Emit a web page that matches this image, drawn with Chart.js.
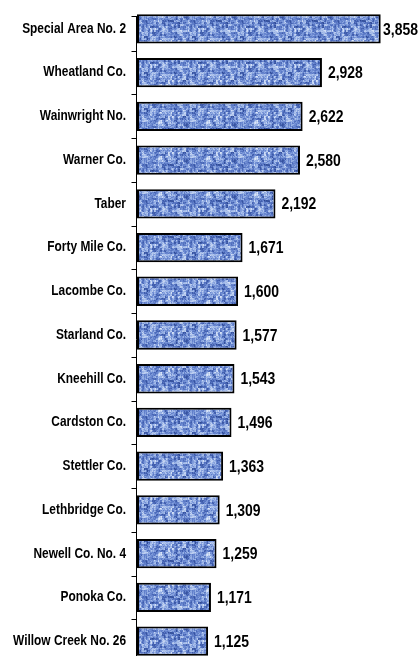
<!DOCTYPE html>
<html>
<head>
<meta charset="utf-8">
<script src="https://cdn.jsdelivr.net/npm/chart.js@4/dist/chart.umd.min.js"></script>
<style>
  html, body { margin: 0; padding: 0; background: #fff; overflow: hidden; }
  #wrap { position: relative; width: 420px; height: 663px; }
</style>
</head>
<body>
<div id="wrap"><canvas id="chart"></canvas></div>
<script>
// Municipalities, ranked
const categories = [
  'Special Area No. 2', 'Wheatland Co.', 'Wainwright No.', 'Warner Co.', 'Taber',
  'Forty Mile Co.', 'Lacombe Co.', 'Starland Co.', 'Kneehill Co.', 'Cardston Co.',
  'Stettler Co.', 'Lethbridge Co.', 'Newell Co. No. 4', 'Ponoka Co.', 'Willow Creek No. 26'
];
const values = [3858, 2928, 2622, 2580, 2192, 1671, 1600, 1577, 1543, 1496, 1363, 1309, 1259, 1171, 1125];

const FONT = '"Liberation Sans", Arial, sans-serif';
// narrow lettering: text is squeezed horizontally to this share of its natural width
const NARROW = 0.85;

// Denim-like fabric tile used as the bar fill
function makeFabric() {
  const w = 48, h = 36;
  const raw = document.createElement('canvas');
  raw.width = w; raw.height = h;
  const g = raw.getContext('2d');
  const img = g.createImageData(w, h);
  const hash = (x, y) => { const s = Math.sin(x * 127.1 + y * 311.7) * 43758.5453; return s - Math.floor(s); };
  const stops = [
    [0.00, [30, 55, 125]],
    [0.33, [72, 102, 182]],
    [0.52, [108, 138, 210]],
    [0.70, [155, 180, 230]],
    [1.00, [232, 240, 252]]
  ];
  const ramp = v => {
    v = Math.max(0, Math.min(1, v));
    for (let i = 1; i < stops.length; i++) {
      if (v <= stops[i][0]) {
        const a = stops[i - 1], b = stops[i];
        const t = (v - a[0]) / (b[0] - a[0]);
        return a[1].map((ch, k) => Math.round(ch + (b[1][k] - ch) * t));
      }
    }
    return stops[stops.length - 1][1];
  };
  for (let y = 0; y < h; y++) {
    for (let x = 0; x < w; x++) {
      const v = 0.40 * hash(Math.floor(x / 3), Math.floor(y / 2))
              + 0.35 * hash(Math.floor(x / 2) + 91, Math.floor(y / 4) + 17)
              + 0.25 * hash(x + 7, y + 3);
      const col = ramp(v + 0.04);
      const i = (y * w + x) * 4;
      img.data[i] = col[0]; img.data[i + 1] = col[1]; img.data[i + 2] = col[2]; img.data[i + 3] = 255;
    }
  }
  g.putImageData(img, 0, 0);
  // soften the weave, wrapping around the tile edges
  const big = document.createElement('canvas');
  big.width = w * 3; big.height = h * 3;
  const bg = big.getContext('2d');
  bg.filter = 'blur(0.6px)';
  for (let j = 0; j < 3; j++) for (let i = 0; i < 3; i++) bg.drawImage(raw, i * w, j * h);
  const tile = document.createElement('canvas');
  tile.width = w; tile.height = h;
  tile.getContext('2d').drawImage(big, w, h, w, h, 0, 0, w, h);
  return tile.getContext('2d').createPattern(tile, 'repeat');
}

function narrowText(ctx, txt, x, y) {
  const tw = ctx.measureText(txt).width;
  ctx.fillText(txt, x, y, tw * NARROW);
  return tw * NARROW;
}

// Vertical axis line, tick marks between categories and category names
const axisPlugin = {
  id: 'axisLine',
  afterDatasetsDraw(chart) {
    const { ctx, chartArea } = chart;
    const y = chart.scales.y;
    const x0 = chartArea.left - 0.5;
    const top = chartArea.top + 9;
    ctx.save();
    ctx.strokeStyle = '#000';
    ctx.lineWidth = 1;
    ctx.beginPath();
    ctx.moveTo(x0, top);
    ctx.lineTo(x0, chartArea.bottom);
    ctx.moveTo(x0 - 5, top + 0.5);
    ctx.lineTo(x0, top + 0.5);
    for (let i = 1; i < categories.length; i++) {
      const yy = Math.round((y.getPixelForValue(i - 1) + y.getPixelForValue(i)) / 2) + 0.5;
      ctx.moveTo(x0 - 5, yy);
      ctx.lineTo(x0, yy);
    }
    ctx.stroke();

    ctx.font = 'bold 14px ' + FONT;
    ctx.fillStyle = '#000';
    ctx.textAlign = 'right';
    ctx.textBaseline = 'middle';
    y.getLabels().forEach((lab, i) => {
      narrowText(ctx, lab, chartArea.left - 11, y.getPixelForValue(i));
    });
    ctx.restore();
  }
};

// Value printed at the end of each bar
const valueLabelPlugin = {
  id: 'valueLabels',
  afterDatasetsDraw(chart) {
    const { ctx } = chart;
    const meta = chart.getDatasetMeta(0);
    ctx.save();
    ctx.font = 'bold 17px ' + FONT;
    ctx.fillStyle = '#000';
    ctx.textBaseline = 'middle';
    ctx.textAlign = 'left';
    meta.data.forEach((bar, i) => {
      const txt = values[i].toLocaleString('en-US');
      const tw = ctx.measureText(txt).width * 0.82;
      const x = Math.min(bar.x + 6, chart.chartArea.right - 2 - tw);
      ctx.fillText(txt, x, bar.y + 1, tw);
    });
    ctx.restore();
  }
};

new Chart(document.getElementById('chart'), {
  type: 'bar',
  data: {
    labels: categories,
    datasets: [{
      data: values,
      backgroundColor: makeFabric(),
      borderColor: '#000',
      borderWidth: 2,
      borderSkipped: false,
      categoryPercentage: 1,
      barPercentage: 0.67
    }]
  },
  options: {
    indexAxis: 'y',
    responsive: true,
    maintainAspectRatio: false,
    animation: false,
    devicePixelRatio: 1,
    layout: { padding: { top: 7, right: 0, bottom: 0, left: 0 } },
    plugins: { legend: { display: false }, tooltip: { enabled: false } },
    scales: {
      x: { type: 'linear', display: false, min: 0, max: 4480 },
      y: {
        type: 'category',
        grid: { display: false },
        border: { display: false },
        ticks: { display: false },
        afterFit(scale) { scale.width = 137; }
      }
    }
  },
  plugins: [axisPlugin, valueLabelPlugin]
});
</script>
</body>
</html>
